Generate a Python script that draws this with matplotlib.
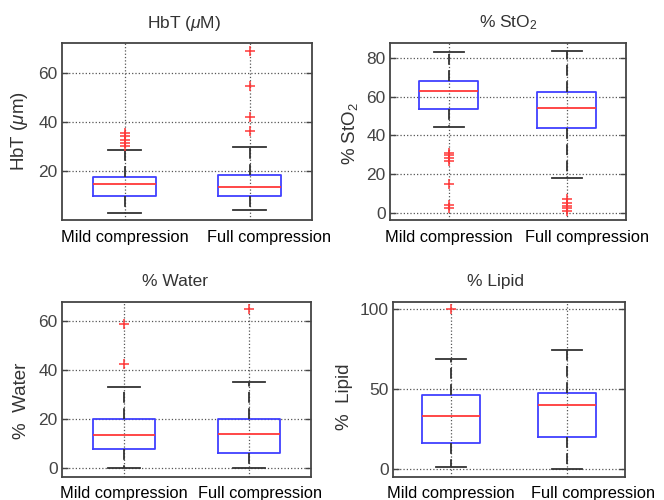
import matplotlib
matplotlib.use('Agg')
import matplotlib.pyplot as plt
import matplotlib.transforms as mtransforms

plt.rcParams['font.family'] = ['Liberation Sans', 'DejaVu Sans']
plt.rcParams['mathtext.fontset'] = 'custom'
plt.rcParams['mathtext.rm'] = 'Liberation Sans'
plt.rcParams['mathtext.it'] = 'Liberation Sans:italic'

groups = ['Mild compression', 'Full compression']

# per panel: [lower whisker, q1, median, q3, upper whisker] for mild / full
hbt_mild = [3.3, 10.1, 14.7, 17.6, 28.7]
hbt_full = [4.4, 10.1, 13.8, 18.4, 29.7]
hbt_out_mild = [30.2, 31.6, 32.9, 34.2, 35.5]
hbt_out_full = [36.2, 42.2, 54.6, 68.7]

sto2_mild = [44.3, 53.6, 62.8, 68.1, 83.3]
sto2_full = [17.9, 44.0, 54.2, 62.6, 83.6]
sto2_out_mild = [31.0, 29.6, 28.2, 26.5, 14.8, 4.0, 2.4]
sto2_out_full = [7.2, 5.2, 3.6, 2.2, 0.8]

water_mild = [0.0, 8.0, 13.6, 20.0, 33.3]
water_full = [0.0, 6.1, 14.0, 20.0, 35.1]
water_out_mild = [42.6, 58.8]
water_out_full = [65.0]

lipid_mild = [1.3, 16.3, 33.1, 46.0, 68.9]
lipid_full = [0.2, 20.0, 39.8, 47.7, 74.4]
lipid_out_mild = [100.0]
lipid_out_full = []

panels = [
    ('HbT ($\\mu$M)', 'HbT ($\\mu$m)', hbt_mild, hbt_full, hbt_out_mild, hbt_out_full,
     (0.3, 72), [20, 40, 60]),
    ('% StO$_2$', '% StO$_2$', sto2_mild, sto2_full, sto2_out_mild, sto2_out_full,
     (-3.8, 87.8), [0, 20, 40, 60, 80]),
    ('% Water', '%  Water', water_mild, water_full, water_out_mild, water_out_full,
     (-3.4, 68), [0, 20, 40, 60]),
    ('% Lipid', '%  Lipid', lipid_mild, lipid_full, lipid_out_mild, lipid_out_full,
     (-4.8, 104.6), [0, 50, 100]),
]

rects = [
    [0.0934, 0.560, 0.3765, 0.354],
    [0.5873, 0.560, 0.3554, 0.354],
    [0.0934, 0.0466, 0.3750, 0.350],
    [0.5914, 0.0466, 0.3494, 0.350],
]
# MATLAB nudged the second label right so the two do not touch (pixels)
label_shift = [20, 20, 11, 26]
ylabel_pos = [(-0.172, 0.503), (-0.17, 0.486), (-0.161, 0.433), (-0.206, 0.455)]
title_x = [0.49, 0.5, 0.452, 0.441]

fig = plt.figure(figsize=(6.64, 5.0), dpi=100)

for i, (title, ylabel, mild, full, out_m, out_f, ylim, yticks) in enumerate(panels):
    ax = fig.add_axes(rects[i])
    stats = []
    for lab, s, fl in zip(groups, [mild, full], [out_m, out_f]):
        stats.append({'label': lab, 'whislo': s[0], 'q1': s[1], 'med': s[2],
                      'q3': s[3], 'whishi': s[4], 'fliers': fl})
    ax.bxp(stats, positions=[1, 2], widths=0.5, showfliers=True,
           boxprops=dict(color='#4040ff', linewidth=1.3),
           medianprops=dict(color='#ff3838', linewidth=1.3),
           whiskerprops=dict(color='#333333', linewidth=1.3, linestyle=(0, (6, 3))),
           capprops=dict(color='#333333', linewidth=1.3),
           capwidths=0.26,
           flierprops=dict(marker='+', markeredgecolor='#ff3838', markersize=7,
                           markeredgewidth=1.1, linestyle='none'))
    ax.set_xlim(0.5, 2.5)
    ax.set_ylim(*ylim)
    ax.set_yticks(yticks)
    ax.set_xticks([1, 2])
    ax.set_xticklabels(groups, fontsize=11.8, color='black')
    ax.grid(True, linestyle=':', color='#555555', linewidth=0.9)
    ax.set_axisbelow(True)
    ax.tick_params(axis='both', direction='in', length=4, width=1, colors='#444444',
                   top=True, right=True, labelsize=12.5)
    ax.tick_params(axis='x', labelcolor='black', labelsize=11.8, pad=7, length=0)
    ax.tick_params(axis='y', labelcolor='#444444', pad=3)
    shift = mtransforms.ScaledTranslation(label_shift[i] / 100.0, 0, fig.dpi_scale_trans)
    lbl = ax.get_xticklabels()[1]
    lbl.set_transform(lbl.get_transform() + shift)
    for sp in ax.spines.values():
        sp.set_color('#444444')
        sp.set_linewidth(1.3)
    ax.set_title(title, fontsize=12.5, color='#333333', pad=11, x=title_x[i])
    ax.set_ylabel(ylabel, fontsize=13.5, color='#333333', va='center')
    ax.yaxis.set_label_coords(*ylabel_pos[i])

fig.savefig('out.png', dpi=100)
